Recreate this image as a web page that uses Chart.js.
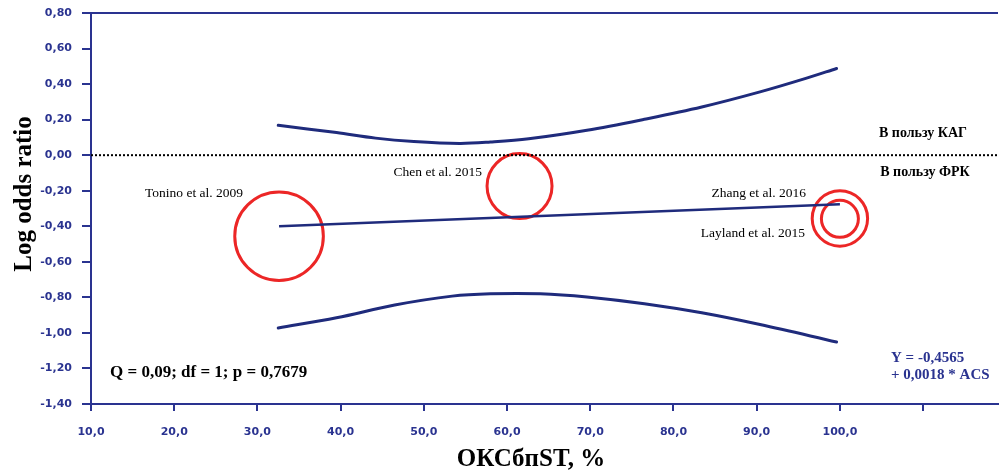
<!DOCTYPE html>
<html>
<head>
<meta charset="utf-8">
<script src="https://cdn.jsdelivr.net/npm/chart.js@4/dist/chart.umd.min.js"></script>
<style>
html,body{margin:0;padding:0;background:#fff;}
#wrap{width:999px;height:472px;}
</style>
</head>
<body>
<div id="wrap"><canvas id="c" width="999" height="472"></canvas></div>
<script>
// ---- data ----
const studyNames = ['Tonino et al. 2009', 'Chen et al. 2015', 'Zhang et al. 2016', 'Layland et al. 2015'];
const studyX = [32.6, 61.5, 100.0, 100.0];          // ОКСбпST, %
const studyY = [-0.456, -0.174, -0.356, -0.358];    // log odds ratio
const studyWeight = [44.3, 32.5, 27.7, 18.5];       // bubble radius (weight)

const regX = [32.6, 100.0];
const regY = [-0.400, -0.276];

const upperX = [32.5, 39.5, 44.2, 48.8, 54.3, 58.0, 62.6, 69.6, 76.5, 83.4, 90.4, 95.9, 99.6];
const upperY = [0.168, 0.127, 0.096, 0.077, 0.066, 0.074, 0.092, 0.140, 0.202, 0.271, 0.356, 0.432, 0.488];

const lowerX = [32.5, 39.5, 46.5, 53.4, 58.0, 64.0, 69.6, 76.5, 83.4, 90.4, 99.6];
const lowerY = [-0.972, -0.915, -0.843, -0.793, -0.780, -0.780, -0.798, -0.836, -0.887, -0.953, -1.051];

const zeroX = [10, 119];
const zeroY = [0, 0];

const xTickMin = 10, xTickMax = 119, xLabelMax = 100, xStep = 10;
const yTickMin = -1.4, yTickMax = 0.8, yStep = 0.2;

const yTitle = 'Log odds ratio';
const xTitle = 'ОКСбпST, %';
const favourTop = 'В пользу КАГ';
const favourBottom = 'В пользу ФРК';
const statText = 'Q = 0,09; df = 1; p = 0,7679';
const eqLines = ['Y = -0,4565', '+ 0,0018 * ACS'];

// ---- styles ----
const NAVY = '#2a3390';
const LINE = '#1f2b7c';
const RED = '#ec2626';
const SERIF = '"Liberation Serif", "Times New Roman", serif';

const pts = (xs, ys) => xs.map((x, i) => ({x: x, y: ys[i]}));

const textPlugin = {
  id: 'texts',
  afterDraw(chart) {
    const {ctx, chartArea} = chart;
    ctx.save();
    // top frame line
    ctx.strokeStyle = NAVY;
    ctx.lineWidth = 2;
    ctx.beginPath();
    ctx.moveTo(chartArea.left, chartArea.top);
    ctx.lineTo(chartArea.right, chartArea.top);
    ctx.stroke();

    // axis titles
    ctx.fillStyle = '#000';
    ctx.font = 'bold 25px ' + SERIF;
    ctx.textBaseline = 'alphabetic';
    ctx.textAlign = 'center';
    ctx.fillText(xTitle, 531, 466);
    ctx.save();
    ctx.translate(31, 194);
    ctx.rotate(-Math.PI / 2);
    ctx.fillText(yTitle, 0, 0);
    ctx.restore();

    // favour labels
    ctx.font = 'bold 14px ' + SERIF;
    ctx.textAlign = 'center';
    ctx.fillText(favourTop, 923, 137);
    ctx.fillText(favourBottom, 925, 176);

    // study labels
    ctx.font = '13.5px ' + SERIF;
    const xs = chart.scales.x, ys = chart.scales.y;
    const offs = [[-134, -39, 'left'], [-37.5, -10.5, 'right'], [-34, -21, 'right'], [-35, 18, 'right']];
    studyNames.forEach((n, i) => {
      const px = xs.getPixelForValue(studyX[i]);
      const py = ys.getPixelForValue(studyY[i]);
      ctx.textAlign = offs[i][2];
      ctx.fillText(n, px + offs[i][0], py + offs[i][1]);
    });

    // statistics
    ctx.font = 'bold 17px ' + SERIF;
    ctx.textAlign = 'left';
    ctx.fillText(statText, 110, 377);

    ctx.fillStyle = NAVY;
    ctx.font = 'bold 15px ' + SERIF;
    ctx.fillText(eqLines[0], 891, 362);
    ctx.fillText(eqLines[1], 891, 379);
    ctx.restore();
  }
};

const fmt = (v, d) => {
  if (Math.abs(v) < 1e-9) v = 0;
  return v.toFixed(d).replace('.', ',');
};

new Chart(document.getElementById('c'), {
  type: 'scatter',
  data: {
    datasets: [
      {
        type: 'line', data: pts(zeroX, zeroY), borderColor: '#000', borderWidth: 2,
        borderDash: [2, 2], pointRadius: 0, fill: false
      },
      {
        type: 'line', data: pts(upperX, upperY), borderColor: LINE, borderWidth: 3,
        pointRadius: 0, tension: 0.35, fill: false, borderCapStyle: 'round'
      },
      {
        type: 'line', data: pts(lowerX, lowerY), borderColor: LINE, borderWidth: 3,
        pointRadius: 0, tension: 0.35, fill: false, borderCapStyle: 'round'
      },
      {
        type: 'line', data: pts(regX, regY), borderColor: LINE, borderWidth: 2.5,
        pointRadius: 0, fill: false
      },
      {
        type: 'bubble',
        data: studyX.map((x, i) => ({x: x, y: studyY[i], r: studyWeight[i]})),
        backgroundColor: 'rgba(0,0,0,0)', borderColor: RED, borderWidth: 3,
        hoverRadius: 0
      }
    ]
  },
  options: {
    responsive: false,
    animation: false,
    events: [],
    layout: {autoPadding: false, padding: {top: 13, right: 1, left: 0, bottom: 0}},
    plugins: {legend: {display: false}, tooltip: {enabled: false}},
    scales: {
      x: {
        type: 'linear', min: xTickMin, max: xTickMax,
        afterFit(s) { s.height = 68; s.paddingLeft = 0; s.paddingRight = 0; },
        border: {display: true, color: NAVY, width: 2},
        grid: {drawOnChartArea: false, drawTicks: true, tickLength: 7, color: NAVY, lineWidth: 2},
        ticks: {
          stepSize: xStep, includeBounds: false, autoSkip: false, maxRotation: 0,
          padding: 15, color: NAVY,
          font: {family: '"DejaVu Sans"', weight: 'bold', size: 11},
          callback: v => (v <= xLabelMax ? fmt(v, 1) : '')
        }
      },
      y: {
        type: 'linear', min: yTickMin, max: yTickMax,
        afterFit(s) { s.width = 91; s.paddingTop = 0; s.paddingBottom = 0; },
        border: {display: true, color: NAVY, width: 2},
        grid: {drawOnChartArea: false, drawTicks: true, tickLength: 9, color: NAVY, lineWidth: 2},
        ticks: {
          stepSize: yStep, includeBounds: false, autoSkip: false,
          padding: 10, color: NAVY,
          font: {family: '"DejaVu Sans"', weight: 'bold', size: 11},
          callback: v => fmt(v, 2)
        }
      }
    }
  },
  plugins: [textPlugin]
});
</script>
</body>
</html>
